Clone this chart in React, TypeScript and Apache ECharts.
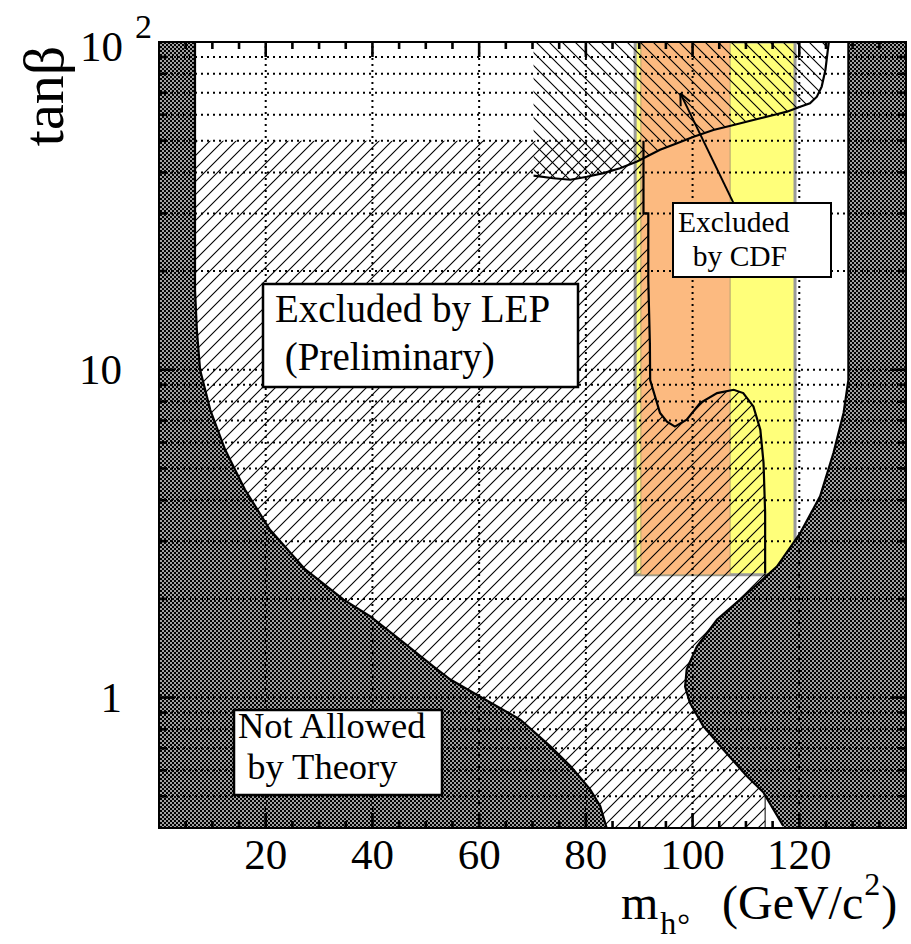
import React, { useEffect, useRef } from 'react';
import * as echarts from 'echarts';

const FONT = '"Liberation Serif", "Times New Roman", serif';

// ---------------- data (m_h in GeV/c^2, tanβ) ----------------
const xTickLabels = [20, 40, 60, 80, 100, 120];
const xMajorTicks = [20, 40, 60, 80, 100, 120];
const xMinorTicks = [5, 10, 15, 25, 30, 35, 45, 50, 55, 65, 70, 75, 85, 90, 95, 105, 110, 115, 125, 130, 135];
const yMajorTicks = [1, 10];
const yMinorTicks = [0.5, 0.6, 0.7, 0.8, 0.9, 2, 3, 4, 5, 6, 7, 8, 9, 20, 30, 40, 50, 60, 70, 80, 90];
const yGridValues = [0.5, 0.6, 0.7, 0.8, 0.9, 1, 2, 3, 4, 5, 6, 7, 8, 9, 10, 20, 30, 40, 50, 60, 70, 80, 90];
const xGridValues = [20, 40, 60, 80, 100, 120];
const yLabelValues = [1, 10, 100];
const yLabelTexts = ['1', '10', '10'];
const yLabelSups = ['', '', '2'];

// theoretically forbidden region, low m_h side (top -> bottom)
const theoryLeftEdge: [number, number][] = [
  [6.75, 100], [6.75, 17.5], [7.1, 13.2], [7.7, 10], [9.6, 7.55], [12.4, 5.7], [16.1, 4.31],
  [20.8, 3.25], [27.4, 2.46], [34.6, 1.99], [39.6, 1.77], [45.2, 1.5], [51.4, 1.245], [54.6, 1.135],
  [61.1, 0.986], [67.7, 0.857], [73.3, 0.711], [77.1, 0.618], [80.8, 0.525], [82.7, 0.466], [83.9, 0.4],
];
// theoretically forbidden region, high m_h side (top -> bottom)
const theoryRightEdge: [number, number][] = [
  [129.2, 100], [129.2, 9.3], [128.3, 7.38], [126.4, 5.57], [123.9, 4.11], [120.2, 3.18], [115.8, 2.51],
  [108.9, 1.99], [104.6, 1.73], [100.8, 1.43], [98.9, 1.22], [98.6, 1.08], [99.5, 0.964], [102.0, 0.818],
  [105.8, 0.693], [110.2, 0.575], [113.3, 0.513], [117.0, 0.406],
];
// LEP excluded region: upper edge tanβ, right edge (top -> bottom)
const lepTopTanb = 50;
const lepRightEdge: [number, number][] = [
  [90.8, 50], [90.8, 30], [91.7, 30], [91.7, 18.8], [92.0, 12], [92.05, 9.3], [93.9, 7.38], [95.2, 6.95],
  [96.7, 6.71], [98.9, 7.04], [101.4, 7.91], [104.6, 8.49], [107.7, 8.69], [109.5, 8.49], [111.4, 7.73],
  [112.7, 6.56], [113.3, 5.2], [113.6, 3.66], [113.6, 2.4],
];
const lepFloorEdge: [number, number][] = [[113.6, 2.4], [113.6, 0.4]];
// high-tanβ excluded region, lower edge (left -> right)
const highTanbEdge: [number, number][] = [
  [70.2, 39.1], [73.9, 38.4], [77.1, 38.0], [80.2, 38.8], [83.3, 39.8], [86.4, 41.2], [89.6, 43.2],
  [93.9, 46.9], [97.1, 49.1], [100.2, 51.4], [103.9, 53.9], [107.7, 55.8], [111.4, 57.8], [115.2, 59.9],
  [117.7, 61.3], [119.9, 63.2], [122.0, 65.0], [123.3, 68.1], [124.2, 73.1], [124.9, 82.2], [125.5, 99.1],
  [125.6, 100],
];
// CDF excluded bands
const cdfBandTanb: [number, number] = [2.37, 100];
const cdfYellowMass: [number, number] = [89.24, 119.2];
const cdfOrangeMass: [number, number] = [90.3, 107.05];
const cdfArrow: [number, number][] = [[107.7, 32.2], [97.7, 69.8]];

// ---------------- patterns ----------------
const svgUrl = (w: number, h: number, body: string) =>
  'data:image/svg+xml;charset=utf-8,' +
  encodeURIComponent(`<svg xmlns="http://www.w3.org/2000/svg" width="${w}" height="${h}">${body}</svg>`);
const hatch = (d: string) => ({
  image: svgUrl(13, 13, `<path d="${d}" stroke="#000" stroke-width="1.1" fill="none"/>`),
  repeat: 'repeat',
  imageWidth: 13,
  imageHeight: 13,
});
const fwdHatch = hatch('M-2,15 L15,-2 M-2,2 L2,-2 M11,15 L15,11');
const backHatch = hatch('M-2,-2 L15,15 M-2,11 L2,15 M11,-2 L15,2');
const checker = {
  image: svgUrl(
    4,
    4,
    '<rect width="4" height="4" fill="#000"/><rect x="0" y="0" width="2" height="2" fill="#a0a0a0"/><rect x="2" y="2" width="2" height="2" fill="#a0a0a0"/>'
  ),
  repeat: 'repeat',
  imageWidth: 4,
  imageHeight: 4,
};

const rectPts = (xr: [number, number], yr: [number, number]): [number, number][] => [
  [xr[0], yr[0]], [xr[1], yr[0]], [xr[1], yr[1]], [xr[0], yr[1]],
];

function measure(s: string, size: number) {
  const ctx = document.createElement('canvas').getContext('2d')!;
  ctx.font = `${size}px "Liberation Serif"`;
  return ctx.measureText(s).width;
}

function renderPlot(_params: any, api: any) {
  const c = (p: number[]) => api.coord(p);
  const pts = (arr: number[][]) => arr.map(c);
  const kids: any[] = [];

  // CDF bands
  kids.push({ type: 'polygon', shape: { points: pts(rectPts(cdfYellowMass, cdfBandTanb)) },
    style: { fill: '#ffff7a', stroke: '#9a9a9a', lineWidth: 3 } });
  kids.push({ type: 'polygon', shape: { points: pts(rectPts(cdfOrangeMass, cdfBandTanb)) },
    style: { fill: '#fcba80', stroke: 'rgba(170,160,110,0.6)', lineWidth: 1.5 } });

  // LEP hatch
  const lepPoly = [[-5, lepTopTanb], ...lepRightEdge, [lepFloorEdge[1][0], 0.3], [-5, 0.3]];
  kids.push({ type: 'polygon', shape: { points: pts(lepPoly) }, style: { fill: fwdHatch, stroke: null } });
  // high tanβ hatch
  const hiPoly = [[highTanbEdge[0][0], 110], ...highTanbEdge, [highTanbEdge[highTanbEdge.length - 1][0], 110]];
  kids.push({ type: 'polygon', shape: { points: pts(hiPoly) }, style: { fill: backHatch, stroke: null } });

  // boundaries
  kids.push({ type: 'polyline', shape: { points: pts(lepRightEdge) }, style: { stroke: '#000', lineWidth: 2.2, fill: null } });
  kids.push({ type: 'polyline', shape: { points: pts(lepFloorEdge) }, style: { stroke: '#000', lineWidth: 1, fill: null } });
  kids.push({ type: 'polyline', shape: { points: pts(highTanbEdge) }, style: { stroke: '#000', lineWidth: 2.2, fill: null } });

  // theory-forbidden regions
  const leftPoly = [...theoryLeftEdge, [84, 0.3], [-5, 0.3], [-5, 110], [6.75, 110]];
  kids.push({ type: 'polygon', shape: { points: pts(leftPoly) }, style: { fill: checker, stroke: null } });
  kids.push({ type: 'polyline', shape: { points: pts(theoryLeftEdge) }, style: { stroke: '#000', lineWidth: 2.2, fill: null } });
  const rightPoly = [[129.2, 110], ...theoryRightEdge, [117.2, 0.3], [150, 0.3], [150, 110]];
  kids.push({ type: 'polygon', shape: { points: pts(rightPoly) }, style: { fill: checker, stroke: null } });
  kids.push({ type: 'polyline', shape: { points: pts(theoryRightEdge) }, style: { stroke: '#000', lineWidth: 2.2, fill: null } });

  // dotted grid
  const dotted = { stroke: '#000', lineWidth: 2, lineDash: [2, 4] };
  xGridValues.forEach((x) => {
    const a = c([x, 0.4]); const b = c([x, 100]);
    kids.push({ type: 'line', shape: { x1: a[0], y1: a[1], x2: b[0], y2: b[1] }, style: dotted });
  });
  yGridValues.forEach((y) => {
    const a = c([0, y]); const b = c([140, y]);
    kids.push({ type: 'line', shape: { x1: a[0], y1: a[1], x2: b[0], y2: b[1] }, style: dotted });
  });

  // ticks (inside, all four sides)
  const tick = { stroke: '#000', lineWidth: 2.6 };
  const xt = (vals: number[], len: number) => vals.forEach((x) => {
    const b = c([x, 0.4]); const t = c([x, 100]);
    kids.push({ type: 'line', shape: { x1: b[0], y1: b[1], x2: b[0], y2: b[1] - len }, style: tick });
    kids.push({ type: 'line', shape: { x1: t[0], y1: t[1], x2: t[0], y2: t[1] + len }, style: tick });
  });
  xt(xMajorTicks, 15); xt(xMinorTicks, 7);
  const yt = (vals: number[], len: number) => vals.forEach((y) => {
    const l = c([0, y]); const r = c([140, y]);
    kids.push({ type: 'line', shape: { x1: l[0], y1: l[1], x2: l[0] + len, y2: l[1] }, style: tick });
    kids.push({ type: 'line', shape: { x1: r[0], y1: r[1], x2: r[0] - len, y2: r[1] }, style: tick });
  });
  yt(yMajorTicks, 16); yt(yMinorTicks, 8);

  // CDF arrow
  const p0 = c(cdfArrow[0]); const p1 = c(cdfArrow[1]);
  kids.push({ type: 'line', shape: { x1: p0[0], y1: p0[1], x2: p1[0], y2: p1[1] }, style: { stroke: '#000', lineWidth: 2 } });
  const ang = Math.atan2(p0[1] - p1[1], p0[0] - p1[0]);
  const hl = 13;
  [0.42, -0.42].forEach((d) => {
    kids.push({ type: 'line', shape: { x1: p1[0], y1: p1[1], x2: p1[0] + hl * Math.cos(ang + d), y2: p1[1] + hl * Math.sin(ang + d) },
      style: { stroke: '#000', lineWidth: 2 } });
  });

  return { type: 'group', children: kids };
}

function renderLabels(_params: any, api: any) {
  const kids: any[] = [];
  const txt = (x: number, y: number, text: string, size: number, align: string) => ({
    type: 'text', x, y,
    style: { text, fill: '#000', fontSize: size, fontFamily: FONT, align, verticalAlign: 'middle',
      textAlign: align, textVerticalAlign: 'middle' },
  });
  xTickLabels.forEach((v) => {
    const p = api.coord([v, 0.4]);
    kids.push(txt(p[0], p[1] + 26, String(v), 43, 'center'));
  });
  yLabelValues.forEach((v, i) => {
    const p = api.coord([0, v]);
    if (yLabelSups[i]) {
      kids.push(txt(p[0] - 36, p[1] + 4, yLabelTexts[i], 43, 'right'));
      kids.push(txt(p[0] - 24, p[1] - 16, yLabelSups[i], 34, 'left'));
    } else {
      kids.push(txt(p[0] - 37, p[1], yLabelTexts[i], 43, 'right'));
    }
  });
  return { type: 'group', children: kids };
}

function buildOption() {
  const t = (x: number, y: number, text: string, size: number, extra: any = {}) => ({
    type: 'text', x, y, z: 110,
    style: { text, fill: '#000', fontSize: size, fontFamily: FONT, align: 'left', verticalAlign: 'middle',
      textAlign: 'left', textVerticalAlign: 'middle' },
    ...extra,
  });
  const box = (x: number, y: number, w: number, h: number, lw: number) => ({
    type: 'rect', z: 105, shape: { x, y, width: w, height: h },
    style: { fill: '#fff', stroke: '#000', lineWidth: lw },
  });

  // x-axis title pieces
  const mainSize = 48; const subSize = 32;
  const base = 919;
  const mid = (b: number, s: number) => b - 0.34 * s;
  const x0 = 621;
  const wM = measure('m', mainSize);
  const wH = measure('h', subSize);
  const xG = 722;
  const wG = measure('(GeV/c', mainSize);
  const w2 = measure('2', subSize);

  const graphic: any[] = [
    { type: 'rect', z: 100, shape: { x: 159, y: 42, width: 747, height: 786 }, style: { fill: null, stroke: '#000', lineWidth: 2 } },
    // LEP label
    box(263, 284, 315, 103, 2.5),
    t(275, mid(321.7, 39), 'Excluded by LEP', 39),
    t(275, mid(370, 39), ' (Preliminary)', 39),
    // CDF label
    box(673, 203, 158, 74, 2),
    t(678, mid(232.5, 29.5), 'Excluded', 29.5),
    t(678, mid(266.5, 29.5), '  by CDF', 29.5),
    // theory label
    box(234, 710, 208, 85, 2.5),
    t(238, mid(737.5, 36.5), 'Not Allowed', 36.5),
    t(238, mid(778.5, 36.5), ' by Theory', 36.5),
    // y title
    { type: 'text', x: 43, y: 96, z: 110, rotation: Math.PI / 2,
      style: { text: 'tanβ', fill: '#000', fontSize: 58, fontFamily: FONT, align: 'center', verticalAlign: 'middle',
        textAlign: 'center', textVerticalAlign: 'middle' } },
    // x title
    t(x0, mid(base, mainSize), 'm', mainSize),
    t(x0 + wM + 2, mid(base + 15, subSize), 'h', subSize),
    t(x0 + wM + 2 + wH + 1, mid(base + 17, subSize), '°', subSize),
    t(xG, mid(base, mainSize), '(GeV/c', mainSize),
    t(xG + wG + 1, mid(base - 24, subSize), '2', subSize),
    t(xG + wG + 1 + w2 + 1, mid(base, mainSize), ')', mainSize),
  ];

  return {
    animation: false,
    backgroundColor: '#fff',
    grid: { left: 159, top: 42, width: 747, height: 786, containLabel: false },
    xAxis: { type: 'value', min: 0, max: 140, interval: 20, axisLine: { show: false }, axisTick: { show: false },
      splitLine: { show: false }, axisLabel: { show: false } },
    yAxis: { type: 'log', logBase: 10, min: 0.4, max: 100, axisLine: { show: false }, axisTick: { show: false },
      splitLine: { show: false }, axisLabel: { show: false } },
    series: [
      { type: 'custom', coordinateSystem: 'cartesian2d', clip: true, silent: true, data: [[70, 1]], renderItem: renderPlot, z: 2 },
      { type: 'custom', coordinateSystem: 'cartesian2d', clip: false, silent: true, data: [[70, 1]], renderItem: renderLabels, z: 3 },
    ],
    graphic,
  };
}

export default function App() {
  const ref = useRef<HTMLDivElement>(null);
  useEffect(() => {
    const chart = echarts.init(ref.current!, null, { renderer: 'svg' });
    chart.setOption(buildOption() as any);
    return () => chart.dispose();
  }, []);
  return (
    <div
      ref={ref}
      style={{ position: 'absolute', left: 0, top: 0, width: 911, height: 944, background: '#fff' }}
    />
  );
}
